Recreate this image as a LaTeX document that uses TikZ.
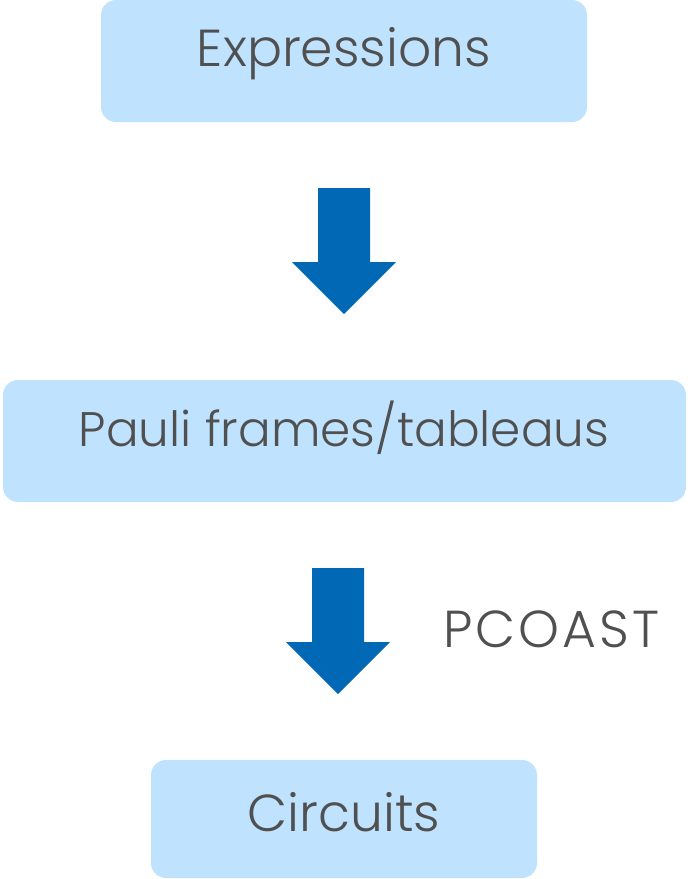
\documentclass[tikz,border=0pt]{standalone}
\usepackage{fontspec}
\setmainfont{Poppins}[UprightFont=* Light]
\usepackage{xcolor}
\usepackage{tikz}
\usetikzlibrary{shapes,positioning}

\definecolor{boxblue}{HTML}{BFE3FF}
\definecolor{arrowblue}{HTML}{0068B5}
\definecolor{textgray}{HTML}{505050}

\begin{document}
\begin{tikzpicture}[
    x=1pt, y=-1pt,
    stage/.style={rectangle, rounded corners=15pt, fill=boxblue, inner sep=0pt, minimum height=122pt},
    flow/.style={fill=arrowblue},
    caption/.style={text=textgray, font=\fontsize{52}{60}\selectfont, inner sep=0pt}
]
\useasboundingbox (0,0) rectangle (692,879);

% Stages
\node[stage, minimum width=486pt] (expr) at (344,61) {};
\node[stage, minimum width=683pt] (pauli) at (344.5,441) {};
\node[stage, minimum width=386pt, minimum height=118pt] (circ) at (344,819) {};

% Texts
\node[caption, anchor=base] (exprtxt) at (344,66) {Expressions};
\node[caption, anchor=base, font=\fontsize{48.5}{60}\selectfont] (paulitxt) at (344,446) {Pauli frames/tableaus};
\node[caption, anchor=base] (circtxt) at (344,831) {Circuits};
\node[caption, anchor=base west, font=\fontsize{52}{60}\selectfont\addfontfeature{LetterSpace=6}] (pcoast) at (443,647) {PCOAST};

% Block arrows
\coordinate (a1) at (344,188);
\coordinate (a2) at (338,568);
\foreach \a in {a1,a2}
    \fill[flow] (\a) ++(-26,0) -- ++(52,0) -- ++(0,74) -- ++(26,0) -- ++(-52,52)
        -- ++(-52,-52) -- ++(26,0) -- cycle;
\end{tikzpicture}
\end{document}
